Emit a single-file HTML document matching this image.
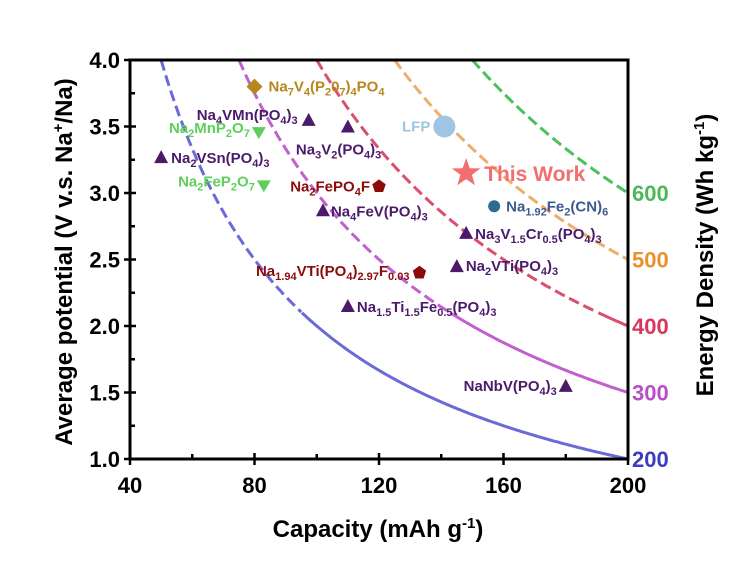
<!DOCTYPE html>
<html><head><meta charset="utf-8"><style>
body{margin:0;background:#fff}
svg{display:block;font-family:"Liberation Sans",Arial,sans-serif;font-weight:bold}
</style></head><body>
<svg id="chart" width="731" height="568" viewBox="0 0 731 568" xmlns="http://www.w3.org/2000/svg">
<g id="curves"></g>
<g id="axes"></g>
<g id="points"></g>
</svg>
<script>
const xTicks=[40,80,120,160,200];
const yTicks=[1.0,1.5,2.0,2.5,3.0,3.5,4.0];
const energies=[200,300,400,500,600];
const energyColors=['#6b6bd8','#c260cf','#d9506e','#ecae6a','#4cc05c'];
const energyLabelColors=['#3c3cc0','#b94fc8','#d8365a','#e8932a','#4cb85a'];
const names=['Na7V4','Na4VMn','Na3V2','Na2MnP2O7','Na2VSn','Na2FeP2O7','Na2FePO4F','Na4FeV','LFP','ThisWork','NaFeCN','Na3VCr','Na2VTi','Na194VTi','Na15TiFe','NaNbV'];
const capacities=[80,97.4,110,81.4,50,83,120,102,141,148,157,148,145,133,110,180];
const potentials=[3.8,3.55,3.5,3.45,3.27,3.05,3.05,2.87,3.5,3.15,2.9,2.7,2.45,2.4,2.15,1.55];

const X0=130,X1=628,Y0=459,Y1=60;
const xs=c=>X0+(c-40)/160*(X1-X0);
const ys=v=>Y0-(v-1)/3*(Y0-Y1);
const NS='http://www.w3.org/2000/svg';
function mk(tag,attrs,parent){const e=document.createElementNS(NS,tag);for(const k in attrs)e.setAttribute(k,attrs[k]);parent.appendChild(e);return e;}

const cg=document.getElementById('curves');
energies.forEach((E,i)=>{
  let dashed='',solid='';
  for(let c=40;c<=200;c+=0.5){
    const v=E/c; if(v>4)continue;
    const p=xs(c).toFixed(1)+','+ys(v).toFixed(1);
    if(v>=2.1){dashed+=(dashed?' L':'M')+p;} else {if(!solid)solid='M'+p;else solid+=' L'+p;}
  }
  if(solid&&dashed){const cEnd=E/2.1;solid='M'+xs(cEnd).toFixed(1)+','+ys(2.1).toFixed(1)+' L'+solid.slice(1);}
  if(dashed){const d=mk('path',{d:dashed,fill:'none',stroke:energyColors[i],'stroke-width':3,'stroke-dasharray':'11,5'},cg);
  
  }
  if(solid){const s=mk('path',{d:solid,fill:'none',stroke:energyColors[i],'stroke-width':3},cg);
  
  }
  const t=mk('text',{x:X1+4,y:ys(E/200)+8,fill:energyLabelColors[i],'font-size':22},cg);
  t.textContent=E;
  
  
});

const ag=document.getElementById('axes');
const frame=mk('rect',{x:X0,y:Y1,width:X1-X0,height:Y0-Y1,fill:'none',stroke:'#000','stroke-width':3},ag);


xTicks.forEach((t,i)=>{
  const x=xs(t);
  mk('line',{x1:x,x2:x,y1:Y0-6,y2:Y0+6,stroke:'#000','stroke-width':2.5},ag);
  if(i<xTicks.length-1){const xm=xs(t+20);mk('line',{x1:xm,x2:xm,y1:Y0,y2:Y0-5,stroke:'#000','stroke-width':2.5},ag);}
  const l=mk('text',{x:x,y:Y0+34,'text-anchor':'middle','font-size':22},ag);l.textContent=t;
  
  
});
yTicks.forEach((t,i)=>{
  const y=ys(t);
  mk('line',{x1:X0-6,x2:X0+6,y1:y,y2:y,stroke:'#000','stroke-width':2.5},ag);
  if(i<yTicks.length-1){const ym=ys(t+0.25);mk('line',{x1:X0,x2:X0+5,y1:ym,y2:ym,stroke:'#000','stroke-width':2.5},ag);}
  const l=mk('text',{x:X0-10,y:y+8,'text-anchor':'end','font-size':22},ag);l.textContent=t.toFixed(1);
  
  
});
</script>
<script>
const svgEl=document.getElementById('chart');
svgEl.insertAdjacentHTML('beforeend',`
<text x="378" y="537" text-anchor="middle" font-size="24">Capacity (mAh g<tspan dy="-9" font-size="15">-1</tspan><tspan dy="9">)</tspan></text>
<text transform="translate(72,262) rotate(-90)" text-anchor="middle" font-size="24">Average potential (V v.s. Na<tspan dy="-9" font-size="15">+</tspan><tspan dy="9">/Na)</tspan></text>
<text transform="translate(713,255) rotate(-90)" text-anchor="middle" font-size="24">Energy Density (Wh kg<tspan dy="-9" font-size="15">-1</tspan><tspan dy="9">)</tspan></text>
`);
const pg=document.getElementById('points');
function marker(i){
  const x=xs(capacities[i]),y=ys(potentials[i]);let e;
  switch(names[i]){
    case 'Na7V4': e=mk('polygon',{points:`${x},${y-8} ${x+8},${y} ${x},${y+8} ${x-8},${y}`,fill:'#b5871c'},pg);break;
    case 'Na2MnP2O7': case 'Na2FeP2O7': e=mk('polygon',{points:`${x-7},${y-6} ${x+7},${y-6} ${x},${y+6}`,fill:'#5fcf5c'},pg);break;
    case 'Na2FePO4F': case 'Na194VTi': {let p=[];for(let k=0;k<5;k++){const a=-Math.PI/2+k*2*Math.PI/5;p.push((x+7*Math.cos(a)).toFixed(1)+','+(y+7*Math.sin(a)).toFixed(1));}
      e=mk('polygon',{points:p.join(' '),fill:'#8b0a0a'},pg);break;}
    case 'LFP': e=mk('circle',{cx:x,cy:y,r:11,fill:'#9ec6e3'},pg);break;
    case 'NaFeCN': e=mk('circle',{cx:x,cy:y,r:6,fill:'#2f6a93'},pg);break;
    case 'ThisWork': {let p=[];for(let k=0;k<10;k++){const a=-Math.PI/2+k*Math.PI/5,r=k%2?6:15;p.push((x+r*Math.cos(a)).toFixed(1)+','+(y+r*Math.sin(a)).toFixed(1));}
      e=mk('polygon',{points:p.join(' '),fill:'#f26f6f'},pg);break;}
    default: e=mk('polygon',{points:`${x},${y-7} ${x+7},${y+6} ${x-7},${y+6}`,fill:'#4b1a6b'},pg);
  }
  
  
  return [x,y];
}
const sub=s=>`<tspan dy="4" font-size="11">${s}</tspan><tspan dy="-4">`;
const labels={
 Na7V4:[14,5,'start','#b5871c',`Na${sub('7')}V${sub('4')}(P${sub('2')}0${sub('7')})${sub('4')}PO${sub('4')}`],
 Na4VMn:[-11,0,'end','#4b1a6b',`Na${sub('4')}VMn(PO${sub('4')})${sub('3')}`],
 Na3V2:[-52,28,'start','#4b1a6b',`Na${sub('3')}V${sub('2')}(PO${sub('4')})${sub('3')}`],
 Na2MnP2O7:[-9,0,'end','#5fcf5c',`Na${sub('2')}MnP${sub('2')}O${sub('7')}`],
 Na2VSn:[10,6,'start','#4b1a6b',`Na${sub('2')}VSn(PO${sub('4')})${sub('3')}`],
 Na2FeP2O7:[-9,0,'end','#5fcf5c',`Na${sub('2')}FeP${sub('2')}O${sub('7')}`],
 Na2FePO4F:[-9,5,'end','#8b0a0a',`Na${sub('2')}FePO${sub('4')}F`],
 Na4FeV:[8,6,'start','#4b1a6b',`Na${sub('4')}FeV(PO${sub('4')})${sub('3')}`],
 LFP:[-14,5,'end','#9ec6e3','LFP'],
 ThisWork:[18,8,'start','#f26f6f','<tspan font-size="21">This Work</tspan>'],
 NaFeCN:[12,5,'start','#3d5a8f',`Na${sub('1.92')}Fe${sub('2')}(CN)${sub('6')}`],
 Na3VCr:[9,6,'start','#4b1a6b',`Na${sub('3')}V${sub('1.5')}Cr${sub('0.5')}(PO${sub('4')})${sub('3')}`],
 Na2VTi:[9,5,'start','#4b1a6b',`Na${sub('2')}VTi(PO${sub('4')})${sub('3')}`],
 Na194VTi:[-10,3,'end','#8b0a0a',`Na${sub('1.94')}VTi(PO${sub('4')})${sub('2.97')}F${sub('0.03')}`],
 Na15TiFe:[9,6,'start','#4b1a6b',`Na${sub('1.5')}Ti${sub('1.5')}Fe${sub('0.5')}(PO${sub('4')})${sub('3')}`],
 NaNbV:[-9,5,'end','#4b1a6b',`NaNbV(PO${sub('4')})${sub('3')}`]
};
names.forEach((n,i)=>{
  const [x,y]=marker(i);const L=labels[n];
  const t=mk('text',{x:x+L[0],y:y+L[1],'text-anchor':L[2],fill:L[3],'font-size':15},pg);
  t.innerHTML=L[4];
  
  
});
</script>
</body></html>
